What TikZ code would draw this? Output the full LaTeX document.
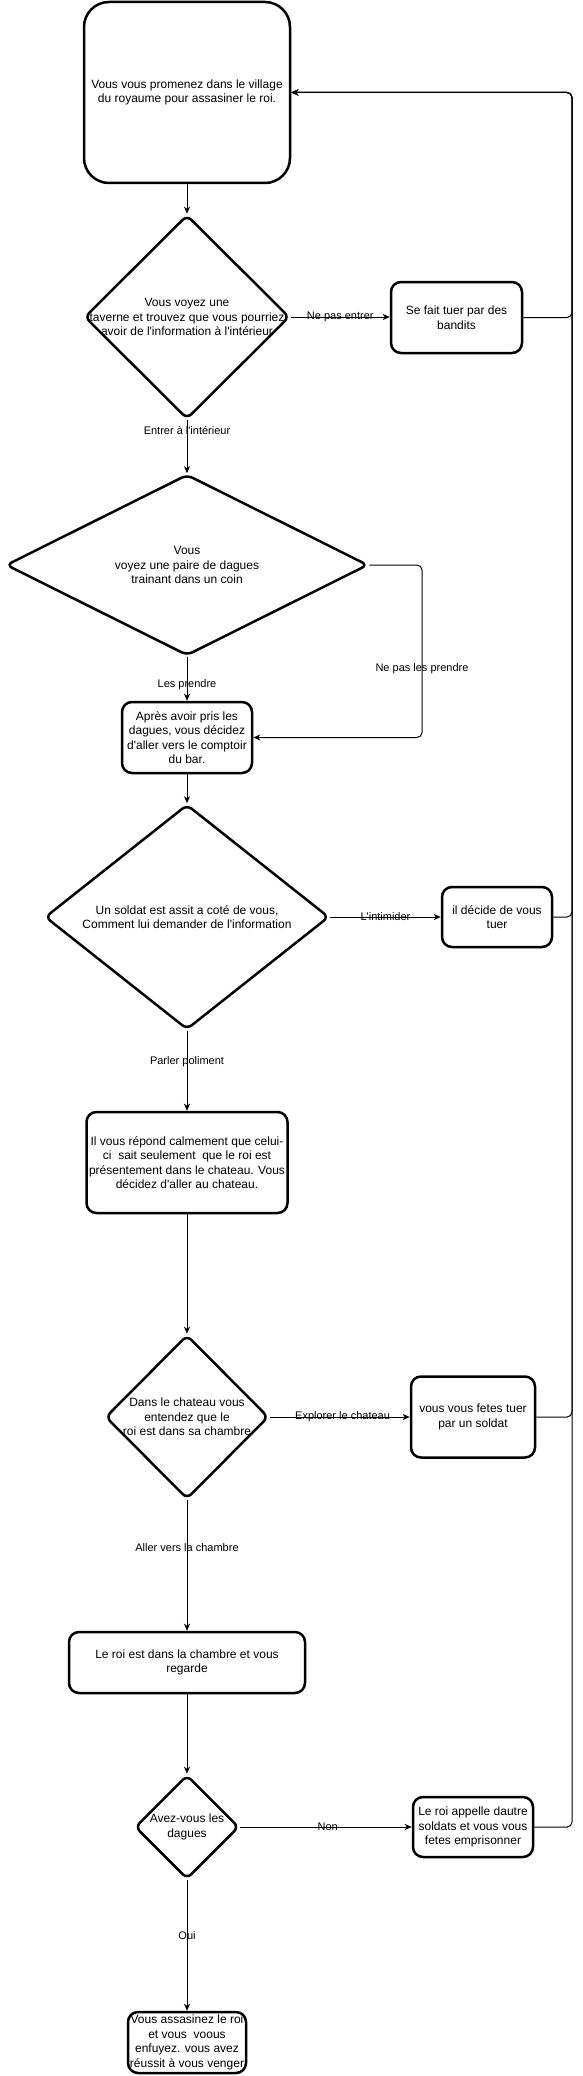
\documentclass[tikz,border=0pt]{standalone}
\usepackage{fontspec}
\setmainfont{Liberation Sans}
\usetikzlibrary{shapes.geometric,arrows.meta}
\newcommand{\ap}{\textquotesingle}

\begin{document}
\begin{tikzpicture}[
    x=1pt, y=-1pt,
    stepbox/.style={rectangle, draw=black, line width=2.5pt, fill=white,
        rounded corners=10pt, inner sep=0pt, align=center,
        font=\fontsize{12pt}{14.5pt}\selectfont},
    decision/.style={diamond, draw=black, line width=2.5pt, fill=white,
        rounded corners=6pt, inner sep=0pt},
    dtext/.style={align=center, inner sep=0pt,
        font=\fontsize{12pt}{14.5pt}\selectfont},
    edge/.style={line width=1pt, -{Stealth[length=7pt, width=6pt, inset=2pt]}},
    rail/.style={edge, rounded corners=5pt},
    lbl/.style={inner sep=1pt, font=\fontsize{11pt}{13pt}\selectfont}
]
    \useasboundingbox (0,0) rectangle (583,2076);
    \node[stepbox, rounded corners=25pt, minimum width=206pt, minimum height=181pt]
        (start) at (187,92.5) {Vous vous promenez dans le village\\du royaume pour assasiner le roi.};
    \node[decision, minimum width=205pt, minimum height=204pt,
        label={[dtext]center:{Vous voyez une\\taverne et trouvez que vous pourriez\\avoir de l\ap information à l\ap intérieur}}]
        (d1) at (187,317) {};
    \node[stepbox, minimum width=131pt, minimum height=71pt]
        (bandits) at (456.5,317.5) {Se fait tuer par des\\bandits};
    \node[decision, minimum width=362pt, minimum height=181pt,
        label={[dtext]center:{Vous\\voyez une paire de dagues\\trainant dans un coin}}]
        (d2) at (187,565) {};
    \node[stepbox, minimum width=130pt, minimum height=71pt]
        (bar) at (187,737.5) {Après avoir pris les\\dagues, vous décidez\\d\ap aller vers le comptoir\\du bar.};
    \node[decision, minimum width=284pt, minimum height=225pt,
        label={[dtext]center:{Un soldat est assit a coté de vous,\\Comment lui demander de l\ap information}}]
        (d3) at (187,917) {};
    \node[stepbox, minimum width=110pt, minimum height=60pt]
        (tuer) at (497,917) {il décide de vous\\tuer};
    \node[stepbox, minimum width=201pt, minimum height=101pt]
        (reponse) at (187,1162.5) {Il vous répond calmement que celui-\\ci\ \ sait seulement\ \ que le roi est\\présentement dans le chateau. Vous\\décidez d\ap aller au chateau.};
    \node[decision, minimum width=163pt, minimum height=164pt,
        label={[dtext]center:{Dans le chateau vous\\entendez que le\\roi est dans sa chambre}}]
        (d4) at (187,1417) {};
    \node[stepbox, minimum width=124pt, minimum height=81pt]
        (soldat) at (473,1417) {vous vous fetes tuer\\par un soldat};
    \node[stepbox, minimum width=236pt, minimum height=61pt]
        (chambre) at (187,1662.5) {Le roi est dans la chambre et vous\\regarde};
    \node[decision, minimum width=104pt, minimum height=104pt,
        label={[dtext]center:{Avez-vous les\\dagues}}]
        (d5) at (187,1827) {};
    \node[stepbox, minimum width=120pt, minimum height=60pt]
        (prison) at (473,1827) {Le roi appelle dautre\\soldats et vous vous\\fetes emprisonner};
    \node[stepbox, minimum width=118pt, minimum height=61pt]
        (fin) at (187,2042.5) {Vous assasinez le roi\\et vous\ \ voous\\enfuyez. vous avez\\réussit à vous venger};
    \coordinate (railtop) at (572,92.5);
    \coordinate (bend) at (422,565);
    \draw[edge] (start) -- (d1);
    \draw[edge] (d1) -- node[lbl]{Ne pas entrer} (bandits.west |- d1);
    \draw[edge] (d1) -- node[lbl, pos=0.2]{Entrer à l\ap intérieur} (d2);
    \draw[edge] (d2) -- node[lbl, pos=0.64]{Les prendre} (bar);
    \draw[edge, rounded corners=5pt] (d2.east) -- (bend) |- node[lbl, pos=0.3]{Ne pas les prendre} (bar.east);
    \draw[edge] (bar) -- (d3);
    \draw[edge] (d3) -- node[lbl]{L\ap intimider} (tuer);
    \draw[edge] (d3) -- node[lbl, pos=0.39]{Parler poliment} (reponse);
    \draw[edge] (reponse) -- (d4);
    \draw[edge] (d4) -- node[lbl, pos=0.52]{Explorer le chateau} (soldat);
    \draw[edge] (d4) -- node[lbl, pos=0.36]{Aller vers la chambre} (chambre);
    \draw[edge] (chambre) -- (d5);
    \draw[edge] (d5) -- node[lbl, pos=0.51]{Non} (prison);
    \draw[edge] (d5) -- node[lbl, pos=0.42]{Oui} (fin);
    \draw[rail] (bandits.east) -| (railtop) -- (start.east);
    \draw[rail] (tuer.east) -| (railtop) -- (start.east);
    \draw[rail] (soldat.east) -| (railtop) -- (start.east);
    \draw[rail] (prison.east) -| (railtop) -- (start.east);
\end{tikzpicture}
\end{document}
